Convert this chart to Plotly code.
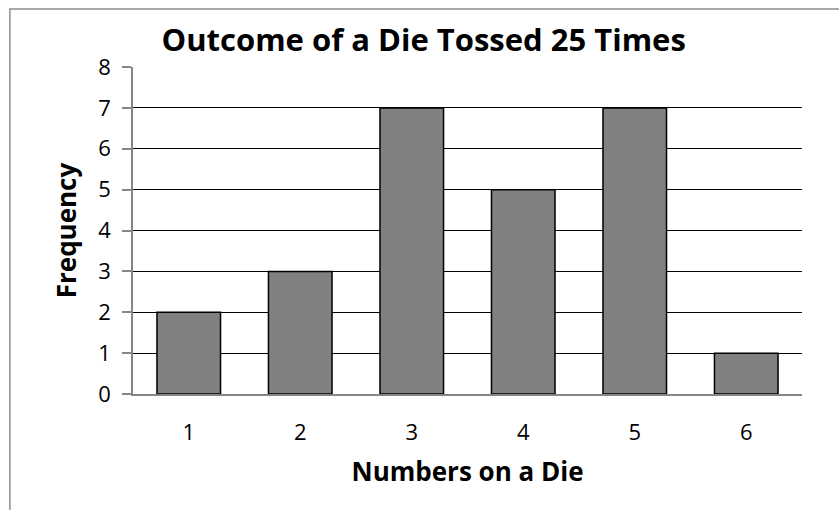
import plotly.graph_objects as go

faces = ["1", "2", "3", "4", "5", "6"]
frequency = [2, 3, 7, 5, 7, 1]
y_ticks = [0, 1, 2, 3, 4, 5, 6, 7, 8]

font_family = "'Open Sans', Lato, sans-serif"

fig = go.Figure(
    go.Bar(
        x=faces,
        y=frequency,
        width=0.57,
        marker=dict(color="#808080", line=dict(color="#000000", width=1.5)),
    )
)

fig.update_layout(
    width=839,
    height=510,
    margin=dict(l=133, r=37, t=67, b=116),
    paper_bgcolor="white",
    plot_bgcolor="white",
    showlegend=False,
    font=dict(family=font_family, color="#000000", size=22),
    title=dict(
        text="<b>Outcome of a Die Tossed 25 Times</b>",
        x=0.505,
        xanchor="center",
        y=1 - 40 / 510,
        yanchor="middle",
        font=dict(size=31, family=font_family),
    ),
    shapes=[
        dict(
            type="rect", xref="paper", yref="paper",
            x0=-0.184, x1=1.2, y0=-0.6, y1=1.177,
            line=dict(color="#8c8c8c", width=1.5), layer="below",
        )
    ],
)

fig.update_xaxes(
    type="category",
    showgrid=False,
    showline=True,
    linecolor="#868686",
    linewidth=1.5,
    ticks="",
    tickfont=dict(size=22),
    ticklabelstandoff=18,
    title=dict(text="<b>Numbers on a Die</b>", font=dict(size=26), standoff=18),
)

fig.update_yaxes(
    range=[0, 8],
    tickvals=y_ticks,
    showgrid=True,
    gridcolor="#000000",
    gridwidth=1.3,
    zeroline=False,
    showline=True,
    linecolor="#868686",
    linewidth=1.5,
    ticks="outside",
    ticklen=9,
    tickcolor="#868686",
    tickwidth=1.5,
    tickfont=dict(size=22),
    ticklabelstandoff=7,
    title=dict(text="<b>Frequency</b>", font=dict(size=26), standoff=14),
)

fig.write_html("out.html")
